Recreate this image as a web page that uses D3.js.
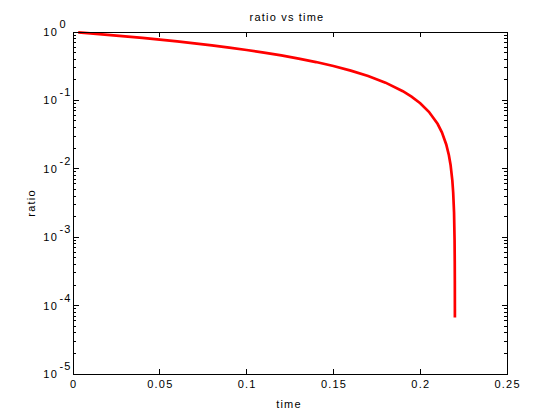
<!DOCTYPE html>
<html>
<head>
<meta charset="utf-8">
<script src="https://cdn.jsdelivr.net/npm/d3@7"></script>
<style>
  body { margin: 0; background: #fff; }
  text { font-family: "Liberation Sans", Arial, sans-serif; font-size: 11px; letter-spacing: 1.2px; fill: #000; }
</style>
</head>
<body>
<div id="chart"></div>
<script>
// values
var timeVals = [0.003, 0.01, 0.02, 0.03, 0.04, 0.05, 0.06, 0.07, 0.08, 0.09, 0.10,
  0.11, 0.12, 0.13, 0.14, 0.15, 0.16, 0.17, 0.18, 0.19, 0.195, 0.20, 0.205, 0.21,
  0.2125, 0.215, 0.2165, 0.2175, 0.2185, 0.219, 0.2195, 0.2198, 0.2199, 0.21995,
  0.21998, 0.219985];
var ratioVals = [0.986, 0.9545, 0.9091, 0.8636, 0.8182, 0.7727, 0.7273, 0.6818, 0.6364,
  0.5909, 0.5455, 0.5, 0.4545, 0.4091, 0.3636, 0.3182, 0.2727, 0.2273, 0.1818, 0.1364,
  0.1136, 0.0909, 0.0682, 0.0455, 0.0341, 0.0227, 0.0159, 0.0114, 0.0068, 0.0045,
  0.0023, 0.0009, 0.00045, 0.00023, 0.00009, 0.000067];

var xTicks = [0, 0.05, 0.1, 0.15, 0.2, 0.25];
var xTickLabels = ["0", "0.05", "0.1", "0.15", "0.2", "0.25"];
var yExponents = [0, -1, -2, -3, -4, -5];

var W = 560, H = 420;
var padL = 73, padR = 507, padT = 32, padB = 374;

var x = d3.scaleLinear().domain([0, 0.25]).range([padL, padR]);
var y = d3.scaleLog().domain([1e-5, 1]).range([padB, padT]);

var svg = d3.select("#chart").append("svg")
  .attr("width", W)
  .attr("height", H);

// curve
var pts = timeVals.map(function(t, i) { return [t, ratioVals[i]]; });
svg.append("path")
  .datum(pts)
  .attr("fill", "none")
  .attr("stroke", "#ff0000")
  .attr("stroke-width", 2.7)
  .attr("d", d3.line()
    .x(function(d) { return x(d[0]); })
    .y(function(d) { return y(d[1]); }));

var g = svg.append("g").attr("shape-rendering", "crispEdges")
  .attr("stroke", "#000").attr("stroke-width", 1);

// x ticks, inward on bottom and top
xTicks.forEach(function(v) {
  g.append("line").attr("x1", x(v)).attr("x2", x(v)).attr("y1", padB).attr("y2", padB - 5);
  g.append("line").attr("x1", x(v)).attr("x2", x(v)).attr("y1", padT).attr("y2", padT + 5);
});

// y ticks (major decades and minor 2..9), inward on left and right
y.ticks().forEach(function(v) {
  var major = Math.abs(Math.log10(v) - Math.round(Math.log10(v))) < 1e-9;
  var len = major ? 5.5 : 3.3;
  g.append("line").attr("x1", padL).attr("x2", padL + len).attr("y1", y(v)).attr("y2", y(v));
  g.append("line").attr("x1", padR).attr("x2", padR - len).attr("y1", y(v)).attr("y2", y(v));
});

// frame
g.append("rect")
  .attr("x", padL).attr("y", padT)
  .attr("width", padR - padL).attr("height", padB - padT)
  .attr("fill", "none");

// x tick labels
svg.selectAll(".xlab").data(xTicks).enter().append("text")
  .attr("class", "xlab")
  .attr("x", function(d) { return x(d) + 0.6; })
  .attr("y", padB + 14)
  .attr("text-anchor", "middle")
  .text(function(d, i) { return xTickLabels[i]; });

// y tick labels 10^n
yExponents.forEach(function(e) {
  var yy = y(Math.pow(10, e));
  svg.append("text")
    .attr("x", 58).attr("y", yy + 4)
    .attr("text-anchor", "end")
    .text("10");
  svg.append("text")
    .attr("x", 59.5).attr("y", yy - 4)
    .attr("font-size", "10px")
    .text(e === 0 ? "0" : "-" + Math.abs(e));
});

// title and axis labels
svg.append("text")
  .attr("x", 287).attr("y", 20.5)
  .attr("text-anchor", "middle")
  .text("ratio vs time");

svg.append("text")
  .attr("x", 289).attr("y", 408)
  .attr("text-anchor", "middle")
  .text("time");

svg.append("text")
  .attr("transform", "translate(35,203) rotate(-90)")
  .attr("text-anchor", "middle")
  .text("ratio");
</script>
</body>
</html>
